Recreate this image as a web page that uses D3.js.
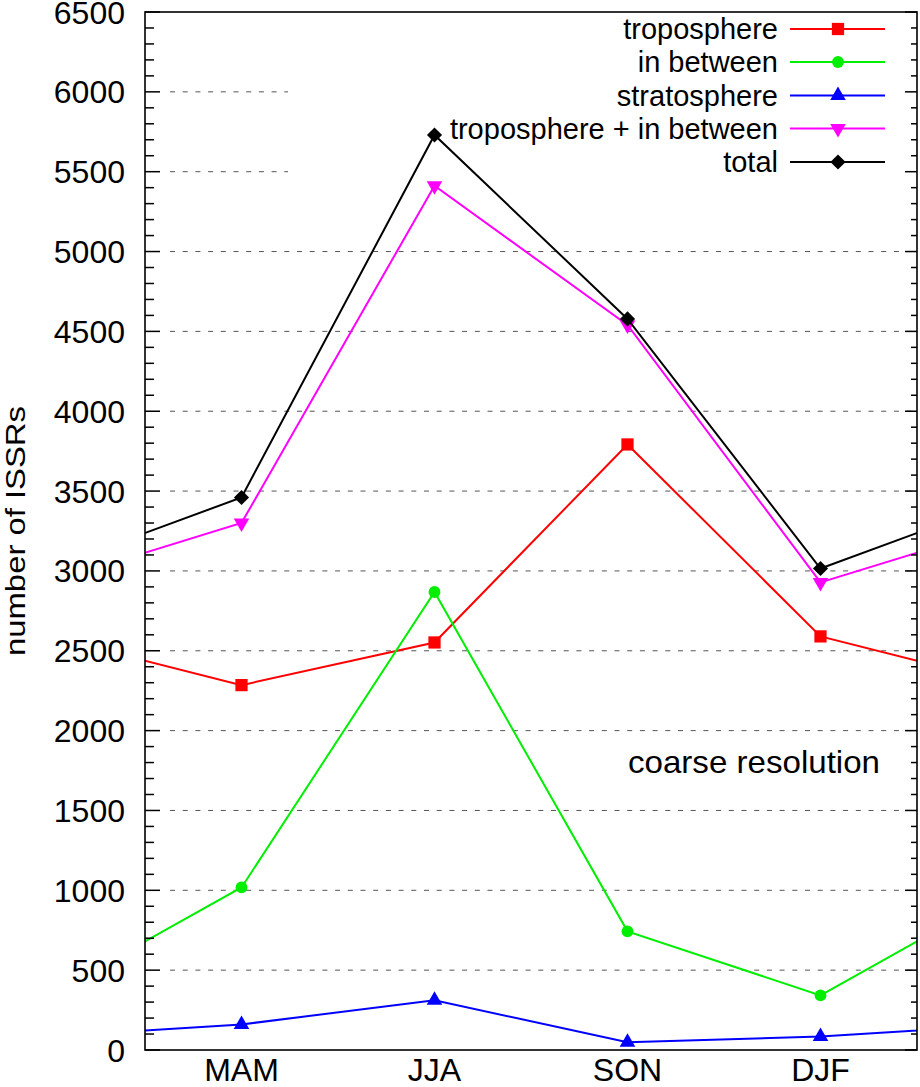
<!DOCTYPE html>
<html>
<head>
<meta charset="utf-8">
<script src="https://cdn.jsdelivr.net/npm/d3@7"></script>
<style>
  body { margin: 0; background: #fff; }
  svg { display: block; font-family: "Liberation Sans", Arial, Helvetica, sans-serif; }
  .grid line { stroke: #555; stroke-width: 1; stroke-dasharray: 5 7.7; }
  .series .trace { fill: none; stroke-width: 2; }
  .frame { fill: none; stroke: #000; stroke-width: 1.6; }
  .tick-mark { stroke: #000; stroke-width: 1.5; }
</style>
</head>
<body>
<svg id="chart"></svg>
<script>
const WIDTH  = 920;
const HEIGHT = 1087;

// seasons (the data is cyclic: DJF wraps around to MAM)
const seasons = ['MAM', 'JJA', 'SON', 'DJF'];

const troposphere   = [2285, 2552, 3792, 2590];
const inBetween     = [1018, 2868,  743,  342];
const stratosphere  = [ 160,  312,   48,   85];
const tropInBetween = [3300, 5412, 4540, 2928];
const total         = [3460, 5730, 4578, 3015];

const yTicks = d3.range(0, 6501, 500);
const yMinor = d3.range(0, 6501, 100);

const series = [
  { name: 'troposphere',              values: troposphere,   color: '#ff0000', marker: 'square' },
  { name: 'in between',               values: inBetween,     color: '#00ee00', marker: 'circle' },
  { name: 'stratosphere',             values: stratosphere,  color: '#0000ff', marker: 'up' },
  { name: 'troposphere + in between', values: tropInBetween, color: '#ff00ff', marker: 'down' },
  { name: 'total',                    values: total,         color: '#000000', marker: 'diamond' },
];

const plot = { left: 145, right: 917, top: 12, bottom: 1050 };

const x = d3.scaleLinear().domain([-0.5, seasons.length - 0.5]).range([plot.left, plot.right]);
const y = d3.scaleLinear().domain([0, 6500]).range([plot.bottom, plot.top]);

const svg = d3.select('#chart').attr('width', WIDTH).attr('height', HEIGHT);

svg.append('defs').append('clipPath').attr('id', 'plot-clip')
  .append('rect')
    .attr('x', plot.left).attr('y', plot.top)
    .attr('width', plot.right - plot.left).attr('height', plot.bottom - plot.top);

// grid
svg.append('g').attr('class', 'grid')
  .selectAll('line')
  .data(yTicks.filter(v => v > 0 && v < 6500))
  .enter().append('line')
    .attr('x1', plot.left + 25)
    .attr('x2', plot.right)
    .attr('y1', d => y(d))
    .attr('y2', d => y(d));

// opaque key box hides the grid behind the legend
const keyBox = { x: 288, y: plot.top + 1, w: plot.right - 288 - 1, h: 168 };
svg.append('rect')
  .attr('x', keyBox.x).attr('y', keyBox.y)
  .attr('width', keyBox.w).attr('height', keyBox.h)
  .attr('fill', '#fff');

const symbols = {
  square:  d3.symbol(d3.symbolSquare, 150),
  circle:  d3.symbol(d3.symbolCircle, 110),
  up:      d3.symbol(d3.symbolTriangle, 105),
  down:    d3.symbol(d3.symbolTriangle, 105),
  diamond: d3.symbol(d3.symbolSquare, 115),
};
const markerTransform = (type, px, py) => {
  if (type === 'down') return `translate(${px},${py}) rotate(180)`;
  if (type === 'diamond') return `translate(${px},${py}) rotate(45)`;
  return `translate(${px},${py})`;
};

// lines (wrap DJF before MAM and MAM after DJF, clipped to the frame)
const line = d3.line().x(d => x(d.i)).y(d => y(d.v));
const n = seasons.length;

const groups = svg.append('g').attr('clip-path', 'url(#plot-clip)')
  .selectAll('.series')
  .data(series)
  .enter().append('g')
    .attr('class', 'series');

groups.append('path')
  .attr('class', 'trace')
  .attr('stroke', d => d.color)
  .attr('d', d => {
    const pts = d.values.map((v, i) => ({ i, v }));
    pts.unshift({ i: -1, v: d.values[n - 1] });
    pts.push({ i: n, v: d.values[0] });
    return line(pts);
  });

groups.each(function (s) {
  d3.select(this).selectAll('.marker')
    .data(s.values)
    .enter().append('path')
      .attr('class', 'marker')
      .attr('fill', s.color)
      .attr('d', symbols[s.marker]())
      .attr('transform', (v, i) => markerTransform(s.marker, x(i), y(v)));
});

// legend
const legendY = [29, 62, 95.5, 128.5, 162];
const legend = svg.append('g').attr('class', 'legend')
  .selectAll('g')
  .data(series)
  .enter().append('g')
    .attr('transform', (d, i) => `translate(0,${legendY[i]})`);

legend.append('text')
  .attr('x', 778)
  .attr('dy', '0.35em')
  .attr('text-anchor', 'end')
  .attr('font-size', 29)
  .text(d => d.name);

legend.append('line')
  .attr('x1', 790).attr('x2', 885)
  .attr('stroke', d => d.color)
  .attr('stroke-width', 2);

legend.append('path')
  .attr('fill', d => d.color)
  .attr('d', d => symbols[d.marker]())
  .attr('transform', d => markerTransform(d.marker, 838, 0));

// frame and ticks
svg.append('rect').attr('class', 'frame')
  .attr('x', plot.left).attr('y', plot.top)
  .attr('width', plot.right - plot.left).attr('height', plot.bottom - plot.top);

const ticks = svg.append('g');
const isMajor = v => v % 500 === 0;
ticks.selectAll('.left')
  .data(yMinor)
  .enter().append('line')
    .attr('class', 'tick-mark')
    .attr('x1', plot.left)
    .attr('x2', v => plot.left + (isMajor(v) ? 15 : 9))
    .attr('y1', v => y(v)).attr('y2', v => y(v));
ticks.selectAll('.right')
  .data(yMinor)
  .enter().append('line')
    .attr('class', 'tick-mark')
    .attr('x1', plot.right)
    .attr('x2', v => plot.right - (isMajor(v) ? 12 : 6))
    .attr('y1', v => y(v)).attr('y2', v => y(v));

// tick labels
svg.append('g')
  .selectAll('text')
  .data(yTicks)
  .enter().append('text')
    .attr('x', 125)
    .attr('y', d => y(d))
    .attr('dy', '0.36em')
    .attr('text-anchor', 'end')
    .attr('font-size', 32)
    .text(d => d);

svg.append('g')
  .selectAll('text')
  .data(seasons)
  .enter().append('text')
    .attr('x', (d, i) => x(i))
    .attr('y', 1081)
    .attr('text-anchor', 'middle')
    .attr('font-size', 32)
    .text(d => d);

// axis title and annotation
svg.append('text')
  .attr('transform', `translate(25,${(plot.top + plot.bottom) / 2}) rotate(-90)`)
  .attr('text-anchor', 'middle')
  .attr('font-size', 27)
  .attr('textLength', 250)
  .attr('lengthAdjust', 'spacingAndGlyphs')
  .text('number of ISSRs');

svg.append('text')
  .attr('x', 880)
  .attr('y', 773)
  .attr('text-anchor', 'end')
  .attr('font-size', 32)
  .attr('textLength', 252)
  .attr('lengthAdjust', 'spacingAndGlyphs')
  .text('coarse resolution');
</script>
</body>
</html>
